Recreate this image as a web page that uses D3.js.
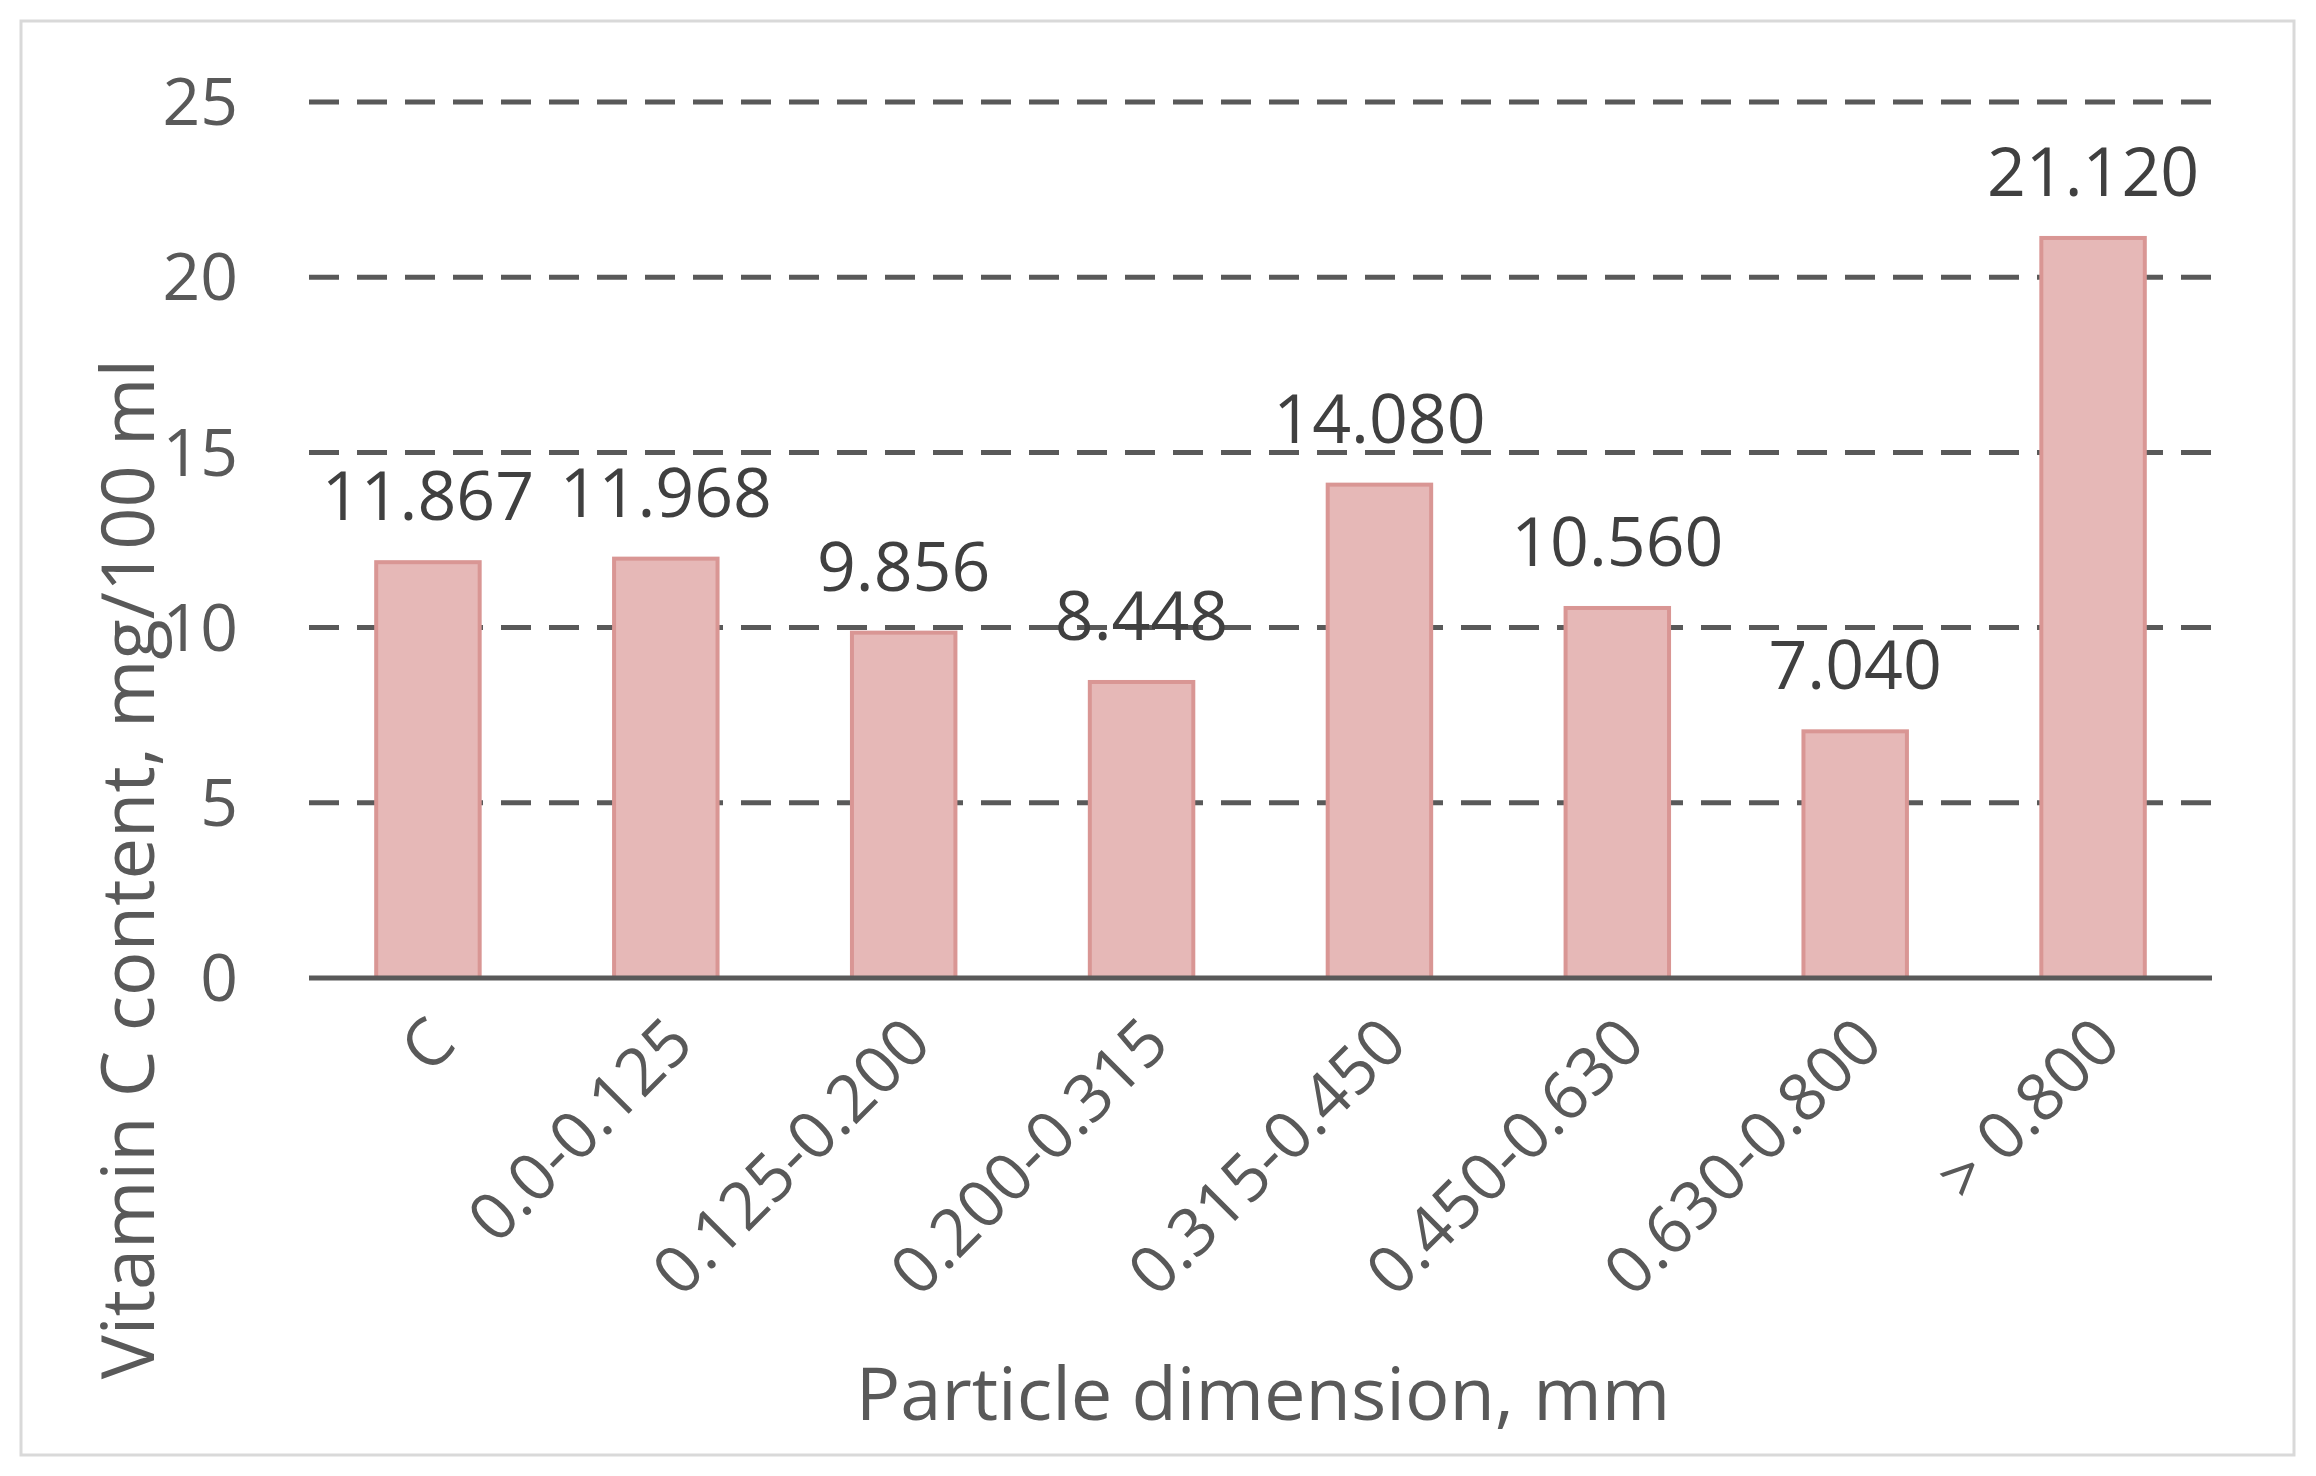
<!DOCTYPE html>
<html><head><meta charset="utf-8">
<script src="https://cdn.jsdelivr.net/npm/d3@7"></script>
<style>
body{margin:0;background:#fff;}
text{font-family:"Open Sans","Liberation Sans",sans-serif;fill:#595959;}
</style></head>
<body><svg width="2316" height="1476"></svg>
<script>
var categories = ['C','0.0-0.125','0.125-0.200','0.200-0.315','0.315-0.450','0.450-0.630','0.630-0.800','> 0.800'];
var values = [11.867, 11.968, 9.856, 8.448, 14.080, 10.560, 7.040, 21.120];
var yTicks = [0, 5, 10, 15, 20, 25];

var svg = d3.select('svg');
//Outer frame.
svg.append('rect').attr('x', 21).attr('y', 21).attr('width', 2273).attr('height', 1434)
	.style('fill', 'none').style('stroke', '#d9d9d9').style('stroke-width', 3);

var margin = {top: 102, left: 309, right: 2212, bottom: 978};
var x = d3.scaleBand().domain(categories).range([margin.left, margin.right]).paddingInner(0.565).paddingOuter(0.2825);
var y = d3.scaleLinear().domain([0, 25]).range([margin.bottom, margin.top]);

//Dashed gridlines.
svg.selectAll('.grid').data(yTicks.slice(1)).enter().append('line')
	.attr('x1', margin.left).attr('x2', margin.right)
	.attr('y1', function(d) { return y(d); }).attr('y2', function(d) { return y(d); })
	.style('stroke', '#595959').style('stroke-width', 5).style('stroke-dasharray', '30,18');

//Y tick labels.
svg.selectAll('.yt').data(yTicks).enter().append('text')
	.attr('x', 238).attr('y', function(d) { return y(d); }).attr('dy', '0.35em')
	.attr('text-anchor', 'end').style('font-size', '66px').text(function(d) { return d; });

//Bars.
svg.selectAll('.bar').data(values).enter().append('rect')
	.attr('x', function(d, i) { return x(categories[i]); })
	.attr('width', x.bandwidth())
	.attr('y', function(d) { return y(d); })
	.attr('height', function(d) { return y(0) - y(d); })
	.style('fill', '#e6b8b7').style('stroke', '#d99694').style('stroke-width', 4);

//Value labels.
svg.selectAll('.lab').data(values).enter().append('text')
	.attr('x', function(d, i) { return x(categories[i]) + x.bandwidth() / 2; })
	.attr('y', function(d) { return y(d) - 42; })
	.attr('text-anchor', 'middle').style('font-size', '68px').style('fill', '#404040')
	.text(function(d) { return d.toFixed(3); });

//Baseline.
svg.append('line').attr('x1', margin.left).attr('x2', margin.right)
	.attr('y1', y(0)).attr('y2', y(0)).style('stroke', '#595959').style('stroke-width', 5);

//Category labels, rotated.
svg.selectAll('.xt').data(categories).enter().append('text')
	.attr('transform', function(d) { return 'translate(' + (x(d) + x.bandwidth() / 2 + 14) + ',' + 1030 + ') rotate(-45)'; })
	.attr('text-anchor', 'end').attr('dy', '0.35em').style('font-size', '66px').text(function(d) { return d; });

//Axis titles.
svg.append('text').attr('transform', 'translate(128,869) rotate(-90)').attr('text-anchor', 'middle')
	.attr('dy', '0.35em').style('font-size', '74px').text('Vitamin C content, mg/100 ml');
svg.append('text').attr('x', 1263).attr('y', 1420).attr('text-anchor', 'middle')
	.style('font-size', '74px').text('Particle dimension, mm');
</script></body></html>
